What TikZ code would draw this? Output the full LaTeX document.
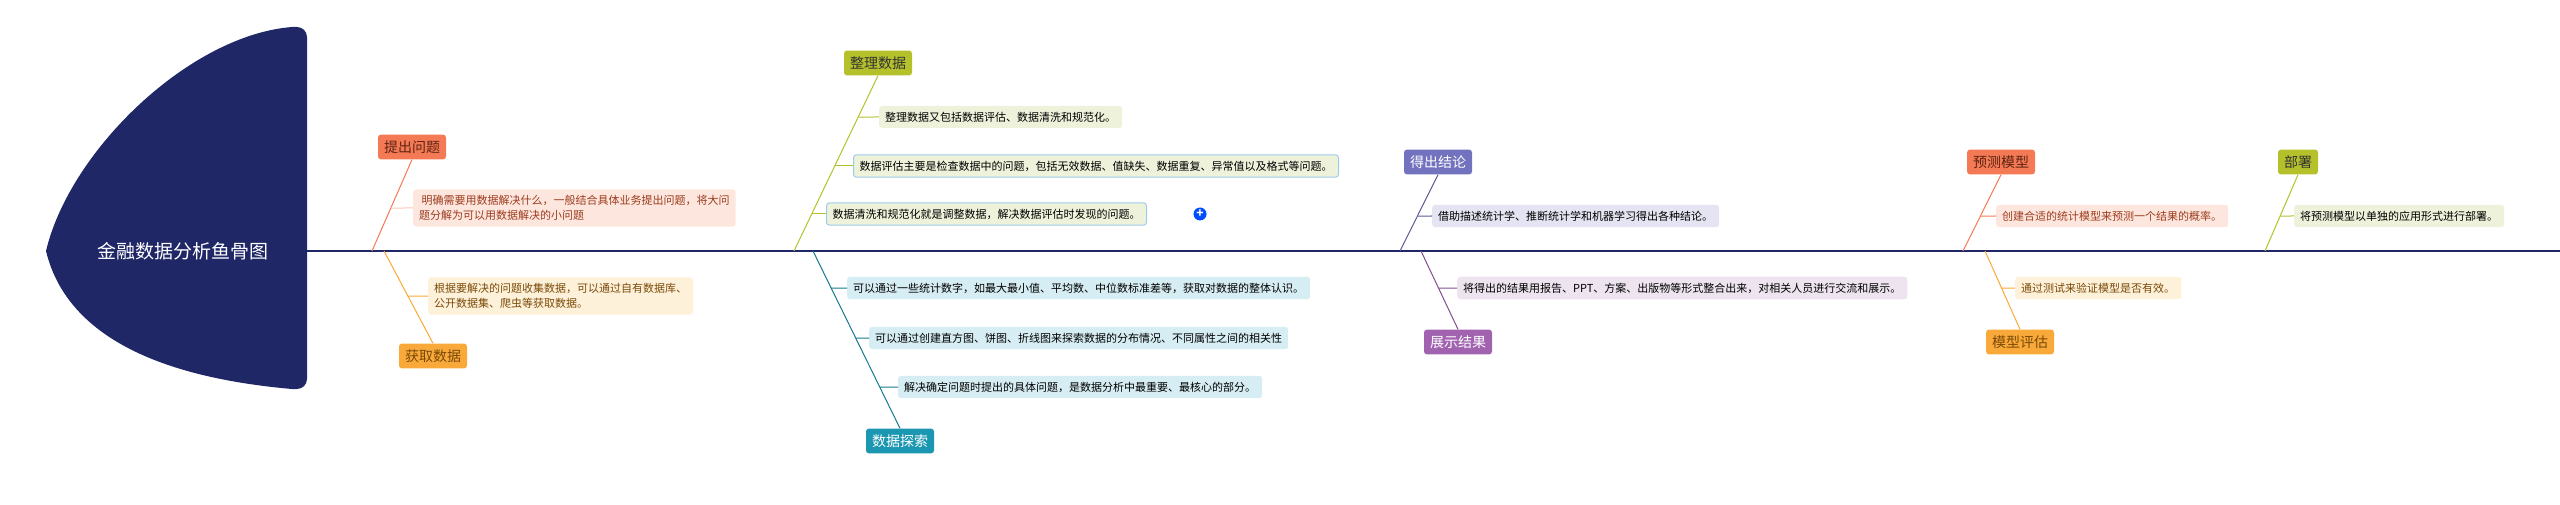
\documentclass[tikz,border=0pt]{standalone}
\usepackage{fontspec}
\setmainfont{Noto Sans CJK SC}
\definecolor{navy}{HTML}{1F2766}
\definecolor{redC}{HTML}{F47A55}
\definecolor{redL}{HTML}{FDE6DD}
\definecolor{redT}{HTML}{9C3B1E}
\definecolor{orgC}{HTML}{F9A939}
\definecolor{orgL}{HTML}{FEF1DA}
\definecolor{orgT}{HTML}{7A4A08}
\definecolor{grnC}{HTML}{B4C12B}
\definecolor{grnL}{HTML}{EEF2DA}
\definecolor{tealC}{HTML}{1B97B2}
\definecolor{tealL}{HTML}{D6EDF3}
\definecolor{indC}{HTML}{7272BF}
\definecolor{indL}{HTML}{E4E4F2}
\definecolor{purC}{HTML}{A163B0}
\definecolor{purL}{HTML}{EEE4F0}
\definecolor{edgeB}{HTML}{9CCCEB}
\tikzset{
  cat/.style={rounded corners=3pt, inner sep=6pt, font=\fontsize{14}{16}\selectfont},
  detail/.style={rounded corners=3pt, inner sep=6pt, anchor=west, align=left,
    font=\fontsize{11}{15}\selectfont},
  bone/.style={line width=1pt}
}
\begin{document}
\begin{tikzpicture}[x=1pt, y=-1pt]
  \useasboundingbox (0,0) rectangle (2560,505);
  % head and spine
  \fill[navy] (46,251) .. controls (70,150) and (190,35) .. (292,27)
    [rounded corners=10pt] -- (307,27) -- (307,389) [sharp corners] -- (292,389)
    .. controls (190,380) and (70,350) .. (46,251) -- cycle;
  \node[text=white, font=\fontsize{19}{22}\selectfont] (title) at (183,251) {金融数据分析鱼骨图};
  \coordinate (tail) at (2560,251);
  \draw[navy, line width=1.5pt] (307,251) -- (tail);
  % 提出问题
  \node[cat, fill=redC, text=redT!60!black] (ask) at (412,147) {提出问题};
  \coordinate (s1) at (372,251);
  \node[detail, fill=redL, text=redT] (ask1) at (413,208)
    {\ 明确需要用数据解决什么，一般结合具体业务提出问题，将大问\\题分解为可以用数据解决的小问题};
  \draw[bone, redC] (ask.south) -- (s1);
  \path (intersection of ask.south--s1 and ask1.west--ask1.east) coordinate (k1);
  \draw[bone, redL!70!redC] (k1) -- (ask1.west);
  % 获取数据
  \node[cat, fill=orgC, text=orgT] (get) at (433,356) {获取数据};
  \coordinate (s2) at (384,251);
  \node[detail, fill=orgL, text=orgT] (get1) at (428,296)
    {根据要解决的问题收集数据，可以通过自有数据库、\\公开数据集、爬虫等获取数据。};
  \draw[bone, orgC] (s2) -- (get.north);
  \path (intersection of get.north--s2 and get1.west--get1.east) coordinate (k2);
  \draw[bone, orgC] (k2) -- (get1.west);
  % 整理数据
  \node[cat, fill=grnC, text=black!80] (tidy) at (878,63) {整理数据};
  \coordinate (s3) at (794,251);
  \node[detail, fill=grnL] (tidy1) at (879,117) {整理数据又包括数据评估、数据清洗和规范化。};
  \node[detail, fill=grnL, draw=edgeB, line width=1pt] (tidy2) at (853,166)
    {数据评估主要是检查数据中的问题，包括无效数据、值缺失、数据重复、异常值以及格式等问题。};
  \node[detail, fill=grnL, draw=edgeB, line width=1pt] (tidy3) at (826,214)
    {数据清洗和规范化就是调整数据，解决数据评估时发现的问题。};
  \node[circle, fill=blue!70!cyan, text=white, inner sep=0pt, minimum size=13pt,
    font=\bfseries\fontsize{12}{12}\selectfont] (plus) at (1200,214) {+};
  \draw[bone, grnC] (tidy.south) -- (s3);
  \foreach \d in {tidy1,tidy2,tidy3}{
    \path (intersection of tidy.south--s3 and \d.west--\d.east) coordinate (k);
    \draw[bone, grnC] (k) -- (\d.west);
  }
  % 数据探索
  \node[cat, fill=tealC, text=white] (explore) at (900,441) {数据探索};
  \coordinate (s4) at (813,251);
  \node[detail, fill=tealL] (exp1) at (847,288) {可以通过一些统计数字，如最大最小值、平均数、中位数标准差等，获取对数据的整体认识。};
  \node[detail, fill=tealL] (exp2) at (869,338) {可以通过创建直方图、饼图、折线图来探索数据的分布情况、不同属性之间的相关性};
  \node[detail, fill=tealL] (exp3) at (898,387) {解决确定问题时提出的具体问题，是数据分析中最重要、最核心的部分。};
  \draw[bone, tealC!80!black] (s4) -- (explore.north);
  \foreach \d in {exp1,exp2,exp3}{
    \path (intersection of explore.north--s4 and \d.west--\d.east) coordinate (k);
    \draw[bone, tealC!80!black] (k) -- (\d.west);
  }
  % 得出结论
  \node[cat, fill=indC, text=white] (conc) at (1438,162) {得出结论};
  \coordinate (s5) at (1400,251);
  \node[detail, fill=indL] (conc1) at (1432,216) {借助描述统计学、推断统计学和机器学习得出各种结论。};
  \draw[bone, indC!80!black] (conc.south) -- (s5);
  \path (intersection of conc.south--s5 and conc1.west--conc1.east) coordinate (k5);
  \draw[bone, indC!80!black] (k5) -- (conc1.west);
  % 展示结果
  \node[cat, fill=purC, text=white] (show) at (1458,342) {展示结果};
  \coordinate (s6) at (1421,251);
  \node[detail, fill=purL] (show1) at (1457,288) {将得出的结果用报告、PPT、方案、出版物等形式整合出来，对相关人员进行交流和展示。};
  \draw[bone, purC!80!black] (s6) -- (show.north);
  \path (intersection of show.north--s6 and show1.west--show1.east) coordinate (k6);
  \draw[bone, purC!80!black] (k6) -- (show1.west);
  % 预测模型
  \node[cat, fill=redC, text=redT!60!black] (pred) at (2001,162) {预测模型};
  \coordinate (s7) at (1963,251);
  \node[detail, fill=redL, text=redT] (pred1) at (1996,216) {创建合适的统计模型来预测一个结果的概率。};
  \draw[bone, redC] (pred.south) -- (s7);
  \path (intersection of pred.south--s7 and pred1.west--pred1.east) coordinate (k7);
  \draw[bone, redC] (k7) -- (pred1.west);
  % 模型评估
  \node[cat, fill=orgC, text=orgT] (eval) at (2020,342) {模型评估};
  \coordinate (s8) at (1985,251);
  \node[detail, fill=orgL, text=orgT] (eval1) at (2015,288) {通过测试来验证模型是否有效。};
  \draw[bone, orgC] (s8) -- (eval.north);
  \path (intersection of eval.north--s8 and eval1.west--eval1.east) coordinate (k8);
  \draw[bone, orgC] (k8) -- (eval1.west);
  % 部署
  \node[cat, fill=grnC, text=black!80] (deploy) at (2298,162) {部署};
  \coordinate (s9) at (2265,251);
  \node[detail, fill=grnL] (deploy1) at (2294,216) {将预测模型以单独的应用形式进行部署。};
  \draw[bone, grnC] (deploy.south) -- (s9);
  \path (intersection of deploy.south--s9 and deploy1.west--deploy1.east) coordinate (k9);
  \draw[bone, grnC] (k9) -- (deploy1.west);
\end{tikzpicture}
\end{document}
